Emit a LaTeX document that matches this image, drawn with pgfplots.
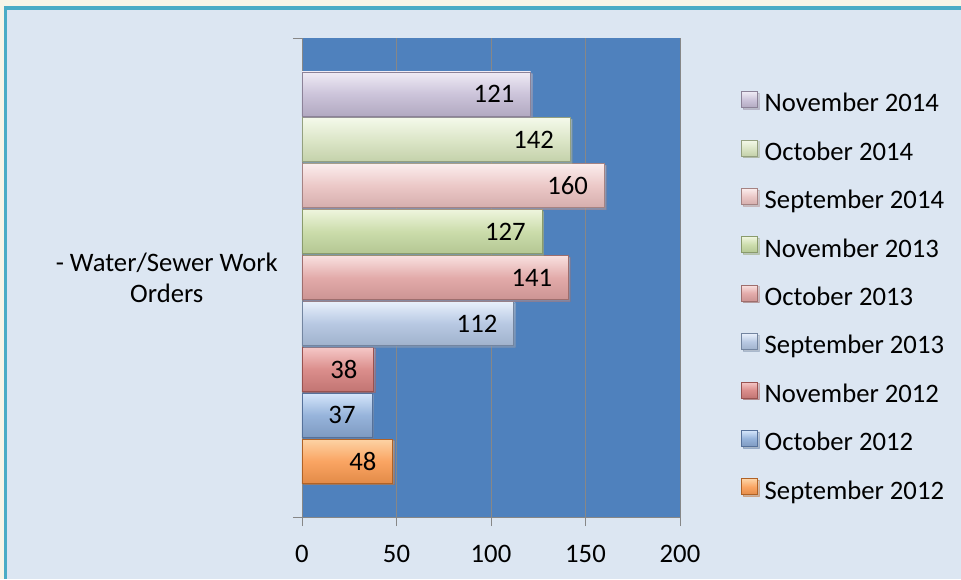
\documentclass[border=0pt]{standalone}
\usepackage{pgfplots}
\pgfplotsset{compat=1.18}
\usepackage{fontspec}
\setmainfont{Carlito}
\usetikzlibrary{shadows}

\definecolor{cream}{HTML}{F8F5E8}
\definecolor{teal}{HTML}{4BACC6}
\definecolor{panel}{HTML}{DCE6F2}
\definecolor{plotbg}{HTML}{4F81BD}
\definecolor{axgray}{HTML}{878787}
% bar colours: top, middle, bottom, edge
\definecolor{aT}{HTML}{FDD3A5}\definecolor{aM}{HTML}{FAA563}\definecolor{aB}{HTML}{E38B48}\definecolor{aE}{HTML}{B06226}
\definecolor{bT}{HTML}{D5E6FB}\definecolor{bM}{HTML}{97B4DB}\definecolor{bB}{HTML}{7E9AC1}\definecolor{bE}{HTML}{56719A}
\definecolor{cT}{HTML}{F5C8C7}\definecolor{cM}{HTML}{DB8E8C}\definecolor{cB}{HTML}{C27573}\definecolor{cE}{HTML}{985250}
\definecolor{dT}{HTML}{E8F0FC}\definecolor{dM}{HTML}{B8C9E3}\definecolor{dB}{HTML}{A0B2CC}\definecolor{dE}{HTML}{7385A0}
\definecolor{eT}{HTML}{F9E1E0}\definecolor{eM}{HTML}{E3ABAA}\definecolor{eB}{HTML}{CC9493}\definecolor{eE}{HTML}{9E6E6D}
\definecolor{fT}{HTML}{EEF5DD}\definecolor{fM}{HTML}{CBDCAB}\definecolor{fB}{HTML}{B4C793}\definecolor{fE}{HTML}{8A9B6C}
\definecolor{gT}{HTML}{FBEDED}\definecolor{gM}{HTML}{EBC8C7}\definecolor{gB}{HTML}{D5AEAD}\definecolor{gE}{HTML}{A58383}
\definecolor{hT}{HTML}{F4F9EA}\definecolor{hM}{HTML}{DCE6C8}\definecolor{hB}{HTML}{C4D1AA}\definecolor{hE}{HTML}{94A07F}
\definecolor{iT}{HTML}{EFEBF5}\definecolor{iM}{HTML}{CCC4DA}\definecolor{iB}{HTML}{B2A9C1}\definecolor{iE}{HTML}{8C8298}

\tikzset{
  bevel/.style={xbar, bar shift=0pt, bar width=0.96, draw=#1E, line width=0.6pt,
    top color=#1T, bottom color=#1B, middle color=#1M,
    drop shadow={shadow xshift=1.2pt, shadow yshift=-1.2pt, opacity=0.35}},
}
\newcommand{\chartfont}{\fontsize{20pt}{23.4pt}\selectfont}

\begin{document}
\chartfont
\begin{tikzpicture}
  % 1px = 0.75pt, picture 961 x 579 px
  \path[use as bounding box] (0,0) rectangle (720.75pt,434.25pt);
  \fill[cream] (0,0) rectangle (720.75pt,434.25pt);
  \fill[teal] (3pt,0) rectangle (720.75pt,429.75pt);
  \fill[panel] (5.25pt,0) rectangle (720.75pt,426.75pt);

  \begin{axis}[
      at={(226.5pt,46.5pt)}, anchor=south west,
      scale only axis,
      width=283.5pt, height=359.25pt,
      xmin=0, xmax=200, ymin=-0.22, ymax=10.22,
      axis background/.style={fill=plotbg},
      axis x line*=bottom, axis y line*=left,
      axis line style={draw=axgray, line width=0.6pt},
      tick align=outside,
      tick style={draw=axgray, line width=0.6pt},
      major tick length=6.75pt,
      xtick={0,50,100,150,200},
      xmajorgrids,
      grid style={draw=axgray, line width=0.6pt},
      ytick={-0.22,10.22}, yticklabels={},
      extra y ticks={5},
      extra y tick labels={{- Water/Sewer Work\\Orders}},
      extra y tick style={major tick length=0pt,
        yticklabel style={align=center, inner sep=0pt, xshift=-18pt}},
      xticklabel style={inner sep=0pt, yshift=-14pt},
      /pgf/number format/assume math mode=true,
      tick label style={font=\chartfont, text=black},
      point meta=x,
      nodes near coords,
      every node near coord/.append style={anchor=east, inner sep=0pt, xshift=-12pt,
        font=\chartfont, text=black},
      legend image code/.code={\draw[#1] (0pt,-1.3pt) rectangle (12pt,10.7pt);},
      reverse legend,
      legend cell align=left,
      legend style={at={(1.1614,0.8894)}, anchor=north west, draw=none, fill=none,
        inner sep=0pt, column sep=5pt, row sep=16.8pt,
        font=\chartfont,
        nodes={inner sep=0pt, text height=13pt, text depth=4pt}},
    ]
    \addplot[bevel=a] coordinates {(48,1)};
    \addplot[bevel=b] coordinates {(37,2)};
    \addplot[bevel=c] coordinates {(38,3)};
    \addplot[bevel=d] coordinates {(112,4)};
    \addplot[bevel=e] coordinates {(141,5)};
    \addplot[bevel=f] coordinates {(127,6)};
    \addplot[bevel=g] coordinates {(160,7)};
    \addplot[bevel=h] coordinates {(142,8)};
    \addplot[bevel=i] coordinates {(121,9)};
    \legend{September 2012, October 2012, November 2012, September 2013,
      October 2013, November 2013, September 2014, October 2014, November 2014}
  \end{axis}
\end{tikzpicture}
\end{document}
